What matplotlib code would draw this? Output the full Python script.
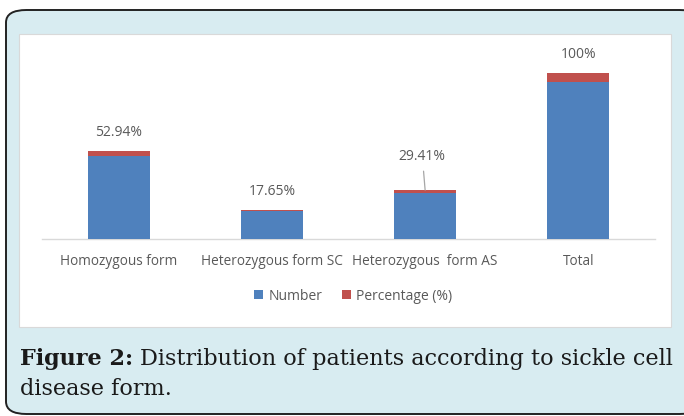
import matplotlib
matplotlib.use("Agg")
import matplotlib.pyplot as plt
from matplotlib.patches import FancyBboxPatch, Rectangle
import numpy as np

categories = ["Homozygous form", "Heterozygous form SC", "Heterozygous  form AS", "Total"]
number = [9, 3, 5, 17]
percentage = [0.5294, 0.1765, 0.2941, 1.0]
pct_labels = ["52.94%", "17.65%", "29.41%", "100%"]

W, H = 684, 416
fig = plt.figure(figsize=(W / 100, H / 100), dpi=100)
fig.patch.set_facecolor("white")

def fx(px):
    return px / W

def fy(py):
    return 1 - py / H

# outer rounded box
box = FancyBboxPatch((fx(6), fy(414)), fx(700) - fx(6), fy(10) - fy(414),
                     boxstyle="round,pad=0,rounding_size=0.03",
                     transform=fig.transFigure, facecolor="#d8ecf1",
                     edgecolor="#222222", linewidth=1.4, zorder=0)
fig.patches.append(box)

# white chart panel
panel = Rectangle((fx(19), fy(327)), fx(671) - fx(19), fy(34) - fy(327),
                  transform=fig.transFigure, facecolor="white",
                  edgecolor="#d9d9d9", linewidth=0.8, zorder=1)
fig.patches.append(panel)

chart_font = ["Open Sans", "DejaVu Sans"]
gray = "#595959"

ax = fig.add_axes([fx(42), fy(239), fx(655) - fx(42), fy(50) - fy(239)])
ax.set_zorder(2)
ax.patch.set_alpha(0)
x = np.arange(len(categories))
bw = 0.405
ax.bar(x, number, bw, color="#4f81bd", label="Number", zorder=3)
ax.bar(x, percentage, bw, bottom=number, color="#c0504d", label="Percentage (%)", zorder=3)
ax.set_xlim(-0.5, 3.5)
ax.set_ylim(0, 189 / 9.24)
for s in ["top", "right", "left"]:
    ax.spines[s].set_visible(False)
ax.spines["bottom"].set_color("#d9d9d9")
ax.spines["bottom"].set_linewidth(1.0)
ax.set_yticks([])
ax.set_xticks(x)
ax.set_xticklabels(categories, fontsize=9.8, color=gray, family=chart_font)
ax.tick_params(axis="x", length=0, pad=11)

tops = [n + p for n, p in zip(number, percentage)]
for i, (t, lab) in enumerate(zip(tops, pct_labels)):
    if i == 2:
        ax.annotate(lab, xy=(i, t), xytext=(-2, 24), textcoords="offset points",
                    ha="center", va="center", fontsize=10, color=gray, family=chart_font,
                    arrowprops=dict(arrowstyle="-", color="#a6a6a6", lw=0.9,
                                    shrinkA=3, shrinkB=0))
    else:
        ax.annotate(lab, xy=(i, t), xytext=(0, 13), textcoords="offset points",
                    ha="center", va="center", fontsize=10, color=gray, family=chart_font)

leg = fig.legend(loc="center", bbox_to_anchor=(fx(353), fy(296)), ncol=2, frameon=False,
                 handlelength=0.65, handleheight=0.65, handletextpad=0.4, columnspacing=1.4,
                 prop={"family": chart_font, "size": 10})
for t in leg.get_texts():
    t.set_color(gray)

serif = ["DejaVu Serif"]
fs = 16.1
t1 = fig.text(fx(20), fy(359), "Figure 2:", fontsize=fs, fontweight="bold", family=serif,
              color="#1a1a1a", va="center", ha="left")
fig.canvas.draw()
bb = t1.get_window_extent()
t2 = fig.text(bb.x1 / W + fx(7), fy(359), "Distribution of patients according to sickle cell",
              fontsize=fs, family=serif, color="#1a1a1a", va="center", ha="left")
fig.text(fx(20), fy(389), "disease form.", fontsize=fs, family=serif,
         color="#1a1a1a", va="center", ha="left")

fig.savefig("out.png", dpi=100)
